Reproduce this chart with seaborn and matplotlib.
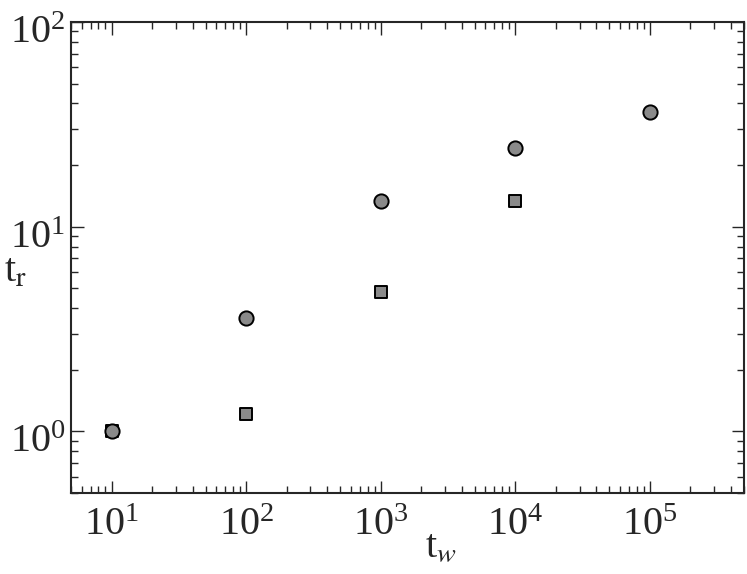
import numpy as np
import pandas as pd
import matplotlib
matplotlib.use("Agg")
import matplotlib.pyplot as plt
import matplotlib.transforms as mtransforms
import seaborn as sns

# Data
tw_circles = [10, 100, 1000, 10000, 100000]
tr_circles = [1.0, 3.6, 13.3, 24.2, 36.5]
tw_squares = [10, 100, 1000, 10000]
tr_squares = [1.0, 1.21, 4.8, 13.3]

sns.set_style("ticks")
plt.rcParams['font.family'] = ['Liberation Serif', 'DejaVu Serif']
plt.rcParams['mathtext.fontset'] = 'stix'

circ = pd.DataFrame({"tw": tw_circles, "tr": tr_circles})
sq = pd.DataFrame({"tw": tw_squares, "tr": tr_squares})

fig = plt.figure(figsize=(7.47, 5.74), dpi=100)
ax = fig.add_axes([71 / 747, 1 - 493 / 574, (744 - 71) / 747, (493 - 22) / 574])

sns.scatterplot(data=sq, x="tw", y="tr", marker="s", s=85, color="#8a8a8a",
                edgecolor="black", linewidth=1.4, ax=ax, zorder=3)
sns.scatterplot(data=circ, x="tw", y="tr", marker="o", s=105, color="#8a8a8a",
                edgecolor="black", linewidth=1.4, ax=ax, zorder=3)

ax.set_xscale("log")
ax.set_yscale("log")
ax.set_xlim(5, 5e5)
ax.set_ylim(0.5, 100)
ax.set_xticks([10, 100, 1000, 10000, 100000])
ax.set_yticks([1, 10, 100])

ax.tick_params(which="both", direction="in", top=True, right=True, width=1.0,
               labelsize=29)
ax.tick_params(axis="x", which="both", pad=5)
ax.tick_params(axis="y", which="both", pad=4)
ax.tick_params(which="major", length=9)
ax.tick_params(which="minor", length=5)
for sp in ax.spines.values():
    sp.set_linewidth(1.5)

# nudge tick labels a little lower, like the reference
down = mtransforms.ScaledTranslation(0, -7 / 100, fig.dpi_scale_trans)
for lab in ax.get_xticklabels() + ax.get_yticklabels():
    lab.set_transform(lab.get_transform() + down)

ax.set_xlabel(r"t$_{\mathit{w}}$", fontsize=29)
ax.xaxis.set_label_coords(0.55, -0.075)
ax.set_ylabel(r"t$_{\mathrm{r}}$", fontsize=29, rotation=0)
ax.yaxis.set_label_coords(-0.083, 0.43)

plt.savefig("out.png", dpi=100)
